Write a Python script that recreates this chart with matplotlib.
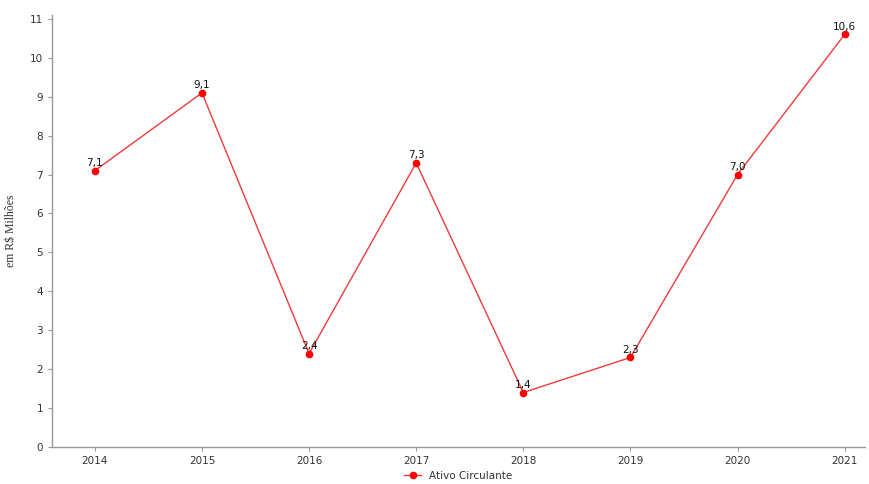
import matplotlib
matplotlib.use("Agg")
import matplotlib.pyplot as plt

years = ["2014", "2015", "2016", "2017", "2018", "2019", "2020", "2021"]
values = [7.1, 9.1, 2.4, 7.3, 1.4, 2.3, 7.0, 10.6]
labels = ["7,1", "9,1", "2,4", "7,3", "1,4", "2,3", "7,0", "10,6"]
yticks = list(range(0, 12))

fig = plt.figure(figsize=(8.69, 4.84), dpi=100)
ax = fig.add_axes([52/869, 37/484, (865-52)/869, (447-15)/484])
x = list(range(len(years)))
ax.plot(x, values, color="#ee3b3b", lw=1.0, marker="o", ms=4.5,
        markerfacecolor="red", markeredgecolor="red", label="Ativo Circulante")
for xi, v, t in zip(x, values, labels):
    ax.annotate(t, (xi, v), xytext=(0, 2), textcoords="offset points",
                ha="center", va="bottom", fontsize=7.5, color="#111111")
ax.set_xlim(-0.4, 7.19)
ax.set_ylim(0, 11.1)
ax.set_yticks(yticks)
ax.set_xticks(x)
ax.set_xticklabels(years)
for s in ["top", "right"]:
    ax.spines[s].set_visible(False)
for s in ["left", "bottom"]:
    ax.spines[s].set_color("#999999")
    ax.spines[s].set_linewidth(1.0)
ax.tick_params(axis="both", labelsize=7.5, colors="#999999", labelcolor="#333333", length=3)
ax.set_ylabel("em R$ Milhões", fontsize=8.5, family="Liberation Serif", color="#333333",
              labelpad=9)
leg = ax.legend(loc="upper center", bbox_to_anchor=(0.5, -0.04), frameon=False,
                fontsize=7.5, handlelength=1.6, labelcolor="#333333", borderaxespad=0.2)
fig.savefig("out.png", dpi=100)
